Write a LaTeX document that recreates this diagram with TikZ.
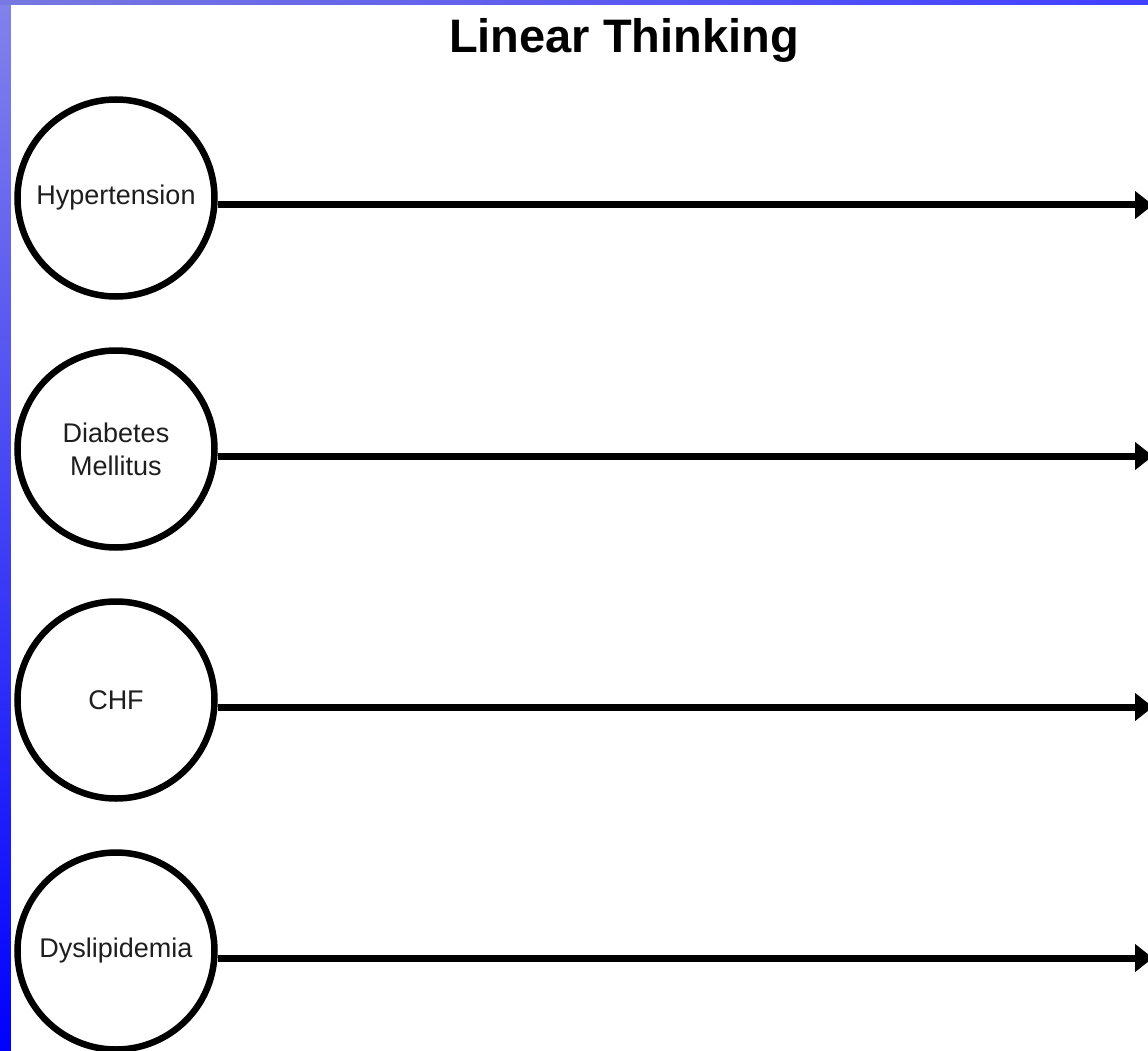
\documentclass[tikz,border=0pt]{standalone}
\usepackage{fontspec}
\setmainfont{Liberation Sans}
\usetikzlibrary{arrows.meta}
\begin{document}
\begin{tikzpicture}[x=1pt,y=-1pt,
  disease/.style={circle,draw=black,line width=6.5pt,minimum size=197pt,inner sep=0pt,align=center,font=\fontsize{27}{33}\selectfont,fill=white,text={rgb,255:red,30;green,30;blue,30}},
  conn/.style={line width=7pt,-{Triangle[length=18pt,width=27pt]}}]
\useasboundingbox (0,0) rectangle (1148,1051);
\shade[top color={rgb,255:red,130;green,130;blue,235},bottom color={rgb,255:red,0;green,0;blue,255}] (0,0) rectangle (1148,1051);
\shade[left color={rgb,255:red,120;green,120;blue,225},right color={rgb,255:red,64;green,64;blue,255}] (0,0) rectangle (1148,5);
\fill[white] (11,5) rectangle (1148,1051);
\node[font=\bfseries\fontsize{47}{56}\selectfont] (title) at (624,40) {Linear Thinking};
\node[disease] (h) at (116,198) {Hypertension};
\node[disease] (d) at (116,449) {Diabetes\\Mellitus};
\node[disease] (c) at (116,700) {CHF};
\node[disease] (y) at (116,951) {Dyslipidemia};
\coordinate (he) at (1153,205);
\coordinate (de) at (1153,456);
\coordinate (ce) at (1153,707);
\coordinate (ye) at (1153,958);
\draw[conn] (h.east |- he) -- (he);
\draw[conn] (d.east |- de) -- (de);
\draw[conn] (c.east |- ce) -- (ce);
\draw[conn] (y.east |- ye) -- (ye);
\end{tikzpicture}
\end{document}
